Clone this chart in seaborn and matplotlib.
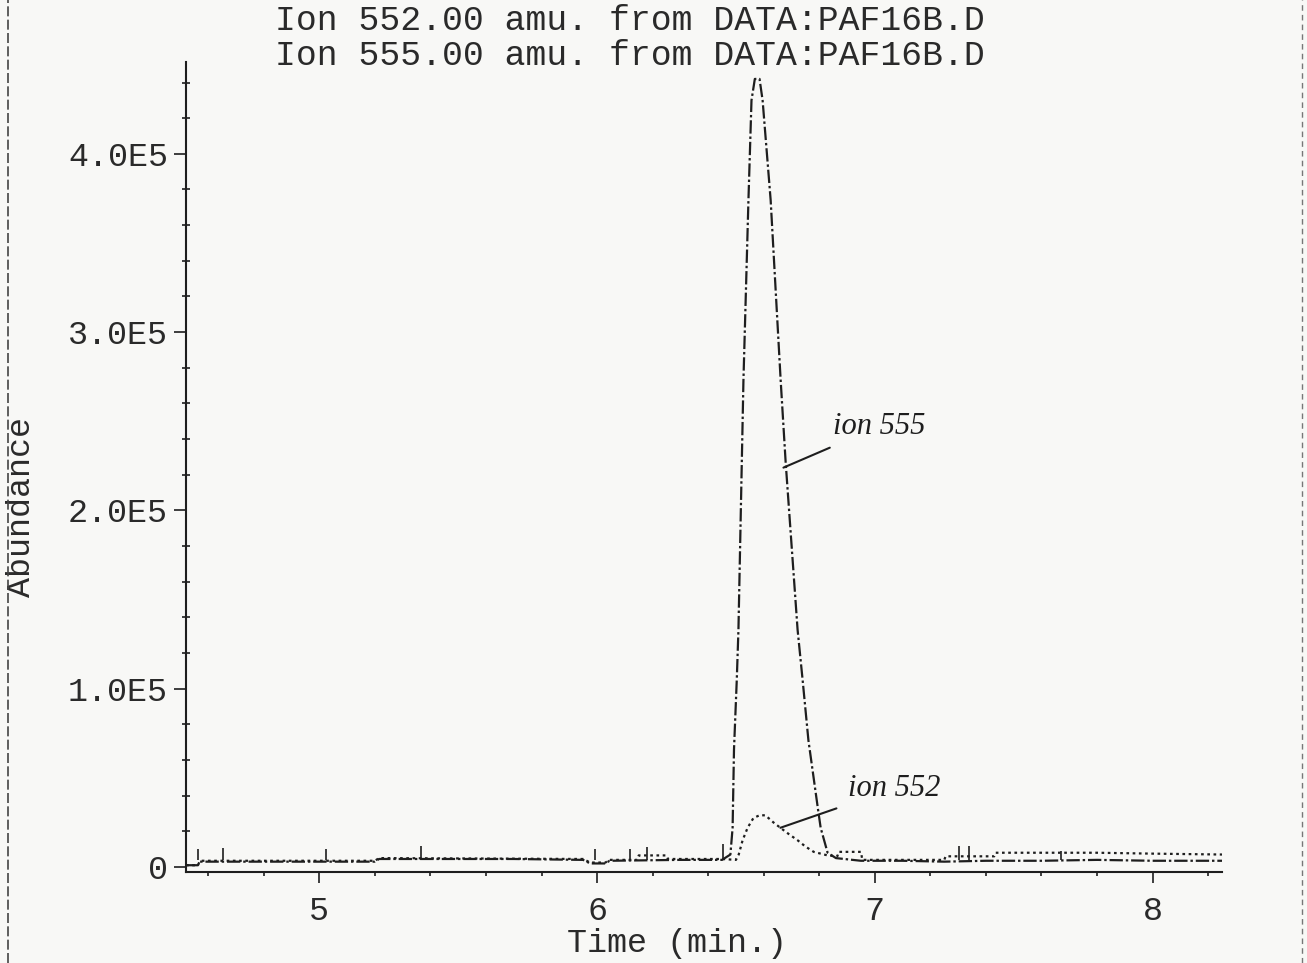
import matplotlib
matplotlib.use("Agg")
import matplotlib.pyplot as plt
from matplotlib.lines import Line2D
from matplotlib.ticker import MultipleLocator, FixedLocator
import numpy as np
import pandas as pd
import seaborn as sns

# ---- chromatogram traces (time in min, abundance in counts) ----
t552 = [4.52, 4.563, 4.57, 5.20, 5.215, 5.95, 5.975, 6.03, 6.045, 6.145, 6.15,
        6.25, 6.255, 6.45, 6.50, 6.51, 6.524, 6.542, 6.563, 6.585, 6.606, 6.635,
        6.66, 6.69, 6.722, 6.75, 6.78, 6.83, 6.865, 6.87, 6.95, 6.955, 7.25,
        7.255, 7.43, 7.435, 7.60, 7.80, 8.00, 8.25]
a552 = [0.010, 0.010, 0.035, 0.035, 0.050, 0.045, 0.025, 0.025, 0.040, 0.040,
        0.065, 0.065, 0.045, 0.045, 0.040, 0.070, 0.150, 0.220, 0.275, 0.290,
        0.290, 0.250, 0.220, 0.185, 0.150, 0.115, 0.085, 0.065, 0.060, 0.085,
        0.085, 0.040, 0.040, 0.060, 0.060, 0.080, 0.080, 0.080, 0.075, 0.070]

t555 = [4.52, 4.563, 4.57, 4.70, 5.00, 5.20, 5.215, 5.50, 5.70, 5.95, 5.975,
        6.03, 6.045, 6.30, 6.45, 6.480, 6.488, 6.493, 6.503, 6.509, 6.527,
        6.545, 6.556, 6.568, 6.585, 6.596, 6.625, 6.661, 6.679, 6.722, 6.740,
        6.761, 6.794, 6.805, 6.830, 6.860, 6.95, 7.10, 7.25, 7.40, 7.60, 7.80,
        8.00, 8.25]
a555 = [0.010, 0.010, 0.030, 0.030, 0.030, 0.030, 0.045, 0.045, 0.045, 0.040,
        0.020, 0.020, 0.035, 0.040, 0.040, 0.070, 0.220, 0.660, 1.050, 1.330,
        2.730, 3.740, 4.300, 4.420, 4.420, 4.300, 3.740, 2.730, 2.270, 1.330,
        1.050, 0.710, 0.340, 0.220, 0.080, 0.050, 0.035, 0.035, 0.030, 0.035,
        0.035, 0.040, 0.035, 0.035]

# integration event marks on the baseline
mark_times = [4.563, 4.653, 5.025, 5.367, 5.994, 6.120, 6.178, 6.452, 7.302, 7.338, 7.67]
mark_tops = [0.10, 0.105, 0.10, 0.12, 0.10, 0.10, 0.11, 0.13, 0.12, 0.12, 0.09]

# axis ticks
x_ticks = [5, 6, 7, 8]
x_tick_labels = ["5", "6", "7", "8"]
y_ticks = [0, 1e5, 2e5, 3e5, 4e5]
y_tick_labels = ["0", "1.0E5", "2.0E5", "3.0E5", "4.0E5"]

title_lines = ["Ion 552.00 amu. from DATA:PAF16B.D",
               "Ion 555.00 amu. from DATA:PAF16B.D"]

SCALE = 1e5
df = pd.concat([
    pd.DataFrame({"time": t552, "abundance": np.array(a552) * SCALE, "ion": "552"}),
    pd.DataFrame({"time": t555, "abundance": np.array(a555) * SCALE, "ion": "555"}),
], ignore_index=True)

sns.set_theme(style="ticks")
plt.rcParams["font.family"] = ["Liberation Mono", "DejaVu Sans Mono"]

INK = "#1e1e1e"
TEXT = "#2a2a2a"
PAPER = "#f8f8f6"
FS = 24

fig = plt.figure(figsize=(13.07, 9.63), dpi=100, facecolor=PAPER)
ax = fig.add_axes([186 / 1307, 91 / 963, (1222 - 186) / 1307, (872 - 62) / 963])
ax.set_facecolor("none")

sns.lineplot(data=df, x="time", y="abundance", style="ion",
             dashes={"552": (1.2, 1.6), "555": (6, 1.3, 1.1, 1.3)},
             color=INK, linewidth=1.6, legend=False, sort=False,
             estimator=None, ax=ax)

ax.vlines(mark_times, 0.04 * SCALE, np.array(mark_tops) * SCALE,
          color=INK, linewidth=1.2)

ax.set_xlim(4.52, 8.25)
ax.set_ylim(-0.028 * SCALE, 4.515 * SCALE)

sns.despine(ax=ax, top=True, right=True)
for side in ("left", "bottom"):
    ax.spines[side].set_color(INK)
    ax.spines[side].set_linewidth(1.5)

ax.xaxis.set_major_locator(FixedLocator(x_ticks))
ax.set_xticklabels(x_tick_labels)
ax.xaxis.set_minor_locator(MultipleLocator(0.2))
ax.yaxis.set_major_locator(FixedLocator(y_ticks))
ax.set_yticklabels(y_tick_labels)
ax.yaxis.set_minor_locator(MultipleLocator(0.2 * SCALE))

ax.tick_params(axis="x", which="major", direction="out", length=8, width=1.2,
               color=INK, labelsize=FS, labelcolor=TEXT, pad=9)
ax.tick_params(axis="x", which="minor", direction="out", length=3, width=1.2, color=INK)
ax.tick_params(axis="y", which="major", direction="out", length=9, width=1.2,
               color=INK, labelsize=FS, labelcolor=TEXT, pad=4)
ax.tick_params(axis="y", which="minor", direction="inout", length=6, width=1.2, color=INK)

ax.set_xlabel("Time (min.)", fontsize=FS, color=TEXT)
ax.xaxis.set_label_coords((677 - 186) / 1036, -(943 - 872) / 810)
ax.xaxis.label.set_va("center")
ax.set_ylabel("Abundance", fontsize=FS, color=TEXT)
ax.yaxis.set_label_coords(-(186 - 22) / 1036, (872 - 507) / 810)
ax.yaxis.label.set_va("center")

fig.suptitle("\n".join(title_lines), x=630 / 1307, y=1 - 4 / 963, va="top",
             fontsize=25, color=TEXT, linespacing=1.08)

# handwritten peak notes
hand = dict(fontsize=22, fontstyle="italic", family=["Liberation Serif"], color=INK,
            ha="left", va="center")
ax.annotate("ion 555", xy=(6.671, 2.24e5), xytext=(6.848, 2.47e5), **hand,
            arrowprops=dict(arrowstyle="-", color=INK, lw=1.5, shrinkA=6, shrinkB=0))
ax.annotate("ion 552", xy=(6.66, 0.22e5), xytext=(6.902, 0.44e5), **hand,
            arrowprops=dict(arrowstyle="-", color=INK, lw=1.5, shrinkA=6, shrinkB=0))

# page edges of the printout
fig.add_artist(Line2D([8 / 1307, 8 / 1307], [0, 1], transform=fig.transFigure,
                      color="#444444", lw=1.2, ls=(0, (6, 2))))
fig.add_artist(Line2D([1302 / 1307, 1302 / 1307], [0, 1], transform=fig.transFigure,
                      color="#777777", lw=1.0, ls=(0, (4, 3))))

fig.savefig("out.png", dpi=100, facecolor=PAPER)
